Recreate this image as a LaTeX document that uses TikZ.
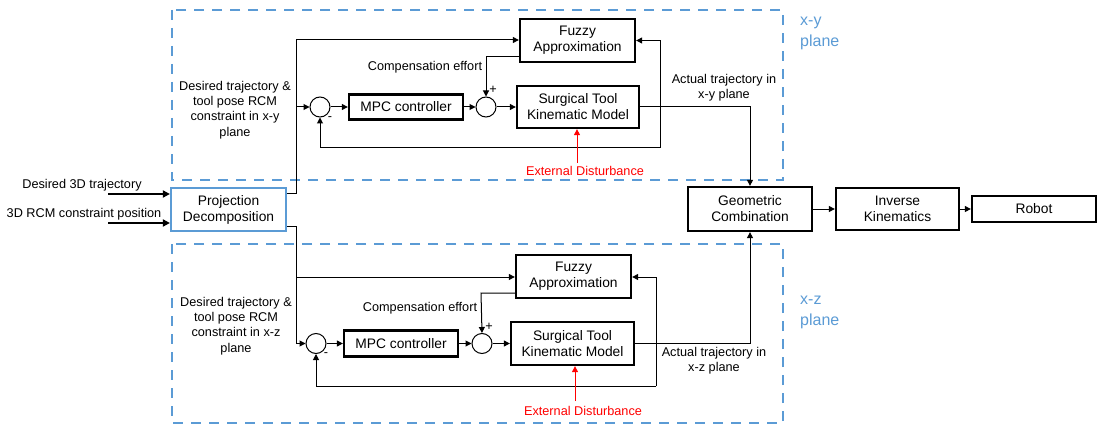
\documentclass[tikz,border=0pt]{standalone}
\usepackage{fontspec}
\setmainfont{Liberation Sans}
\usetikzlibrary{arrows.meta,calc}
\definecolor{planeblue}{RGB}{91,155,213}
\tikzset{
  blk/.style={draw,line width=2.3pt,inner sep=0pt,align=center,font=\fontsize{13.8}{16}\selectfont},
  projbox/.style={draw=planeblue,line width=2.2pt,inner sep=0pt,align=center,font=\fontsize{13.8}{16}\selectfont},
  sumnode/.style={draw,circle,line width=1pt,minimum size=20pt,inner sep=0pt},
  lbl/.style={align=center,inner sep=0pt,font=\fontsize{12.7}{15.3}\selectfont},
  planelbl/.style={align=left,inner sep=0pt,text=planeblue,font=\fontsize{16}{21}\selectfont},
  arr/.style={line width=1pt,-{Triangle[length=6pt,width=6pt]}},
  line/.style={line width=1pt},
  inarr/.style={line width=2.2pt,-{Triangle[length=7pt,width=7pt]}},
  redarr/.style={line width=1pt,red,-{Triangle[length=6pt,width=6pt]}},
  frame/.style={draw=planeblue,line width=2.8pt,dash pattern=on 10pt off 8pt}
}
\begin{document}
\begin{tikzpicture}[x=1pt,y=-1pt]
\useasboundingbox (0,0) rectangle (1100,425);

% plane frames
\draw[frame] (172,10) rectangle (783,180);
\draw[frame] (172,244) rectangle (783,423);
\node[planelbl,anchor=west] (pxy) at (800,33) {x-y\\plane};
\node[planelbl,anchor=west] (pxz) at (800,312) {x-z\\plane};

% inputs and decomposition
\node[projbox,minimum width=115pt,minimum height=43pt] (proj) at (228.5,209.5) {Projection\\Decomposition};
\node[lbl] (in1) at (82,185) {Desired 3D trajectory};
\node[lbl] (in2) at (84,214) {3D RCM constraint position};
\coordinate (in1s) at (108,194);
\coordinate (in2s) at (108,223);
\draw[inarr] (in1s) -- (proj.west |- in1s);
\draw[inarr] (in2s) -- (proj.west |- in2s);

% combination chain
\node[blk,minimum width=124pt,minimum height=44pt] (geo) at (750,209) {Geometric\\Combination};
\node[blk,minimum width=123pt,minimum height=42pt] (ik) at (897.5,209) {Inverse\\Kinematics};
\node[blk,minimum width=124pt,minimum height=26pt] (robot) at (1034,209) {Robot};
\draw[arr] (geo) -- (ik);
\draw[arr] (ik) -- (robot);

% ---------- x-y plane loop ----------
\node[blk,minimum width=115pt,minimum height=43pt] (fz1) at (577.5,40.5) {Fuzzy\\Approximation};
\node[blk,minimum width=122pt,minimum height=42pt] (st1) at (578,107) {Surgical Tool\\Kinematic Model};
\node[blk,minimum width=114pt,minimum height=25pt] (mpc1) at (406,107) {MPC controller};
\node[sumnode] (a1) at (320,107) {};
\node[sumnode] (b1) at (486,107) {};
\node[lbl] (m1) at (330,119) {-};
\node[lbl] (p1) at (493,90) {+};
\node[lbl] (L1) at (235,110) {Desired trajectory \&\\tool pose RCM\\constraint in x-y\\plane};
\node[lbl] (c1) at (425,67) {Compensation effort};
\node[lbl] (o1) at (724,87.5) {Actual trajectory in\\x-y plane};
\node[lbl,text=red] (d1) at (585,171) {External Disturbance};

\coordinate (t1) at (296,40);
\coordinate (k1) at (486,57);
\coordinate (r1) at (660,107);
\coordinate (r1b) at (660,148);
\coordinate (e1) at (577,163);
\draw[arr] ([yshift=16.5pt]proj.east) -| (t1) -- (fz1.west |- t1);
\draw[arr] (t1 |- a1) -- (a1.west);
\draw[arr] (a1) -- (mpc1);
\draw[arr] (mpc1) -- (b1);
\draw[arr] (b1) -- (st1);
\draw[arr] (fz1.west |- k1) -- (k1) -- (b1.north);
\draw[arr] (st1.east) -| (geo.north);
\draw[arr] (r1) |- (fz1.east);
\draw[arr] (r1) -- (r1b) -| (a1.south);
\draw[redarr] (e1) -- (e1 |- st1.south);

% ---------- x-z plane loop ----------
\node[blk,minimum width=115pt,minimum height=43pt] (fz2) at (573.5,276.5) {Fuzzy\\Approximation};
\node[blk,minimum width=123pt,minimum height=43pt] (st2) at (572.5,343.5) {Surgical Tool\\Kinematic Model};
\node[blk,minimum width=114pt,minimum height=26pt] (mpc2) at (401,343.5) {MPC controller};
\node[sumnode] (a2) at (316,343.5) {};
\node[sumnode] (b2) at (482,343.5) {};
\node[lbl] (m2) at (326,355) {-};
\node[lbl] (p2) at (489,327) {+};
\node[lbl] (L2) at (236,326) {Desired trajectory \&\\tool pose RCM\\constraint in x-z\\plane};
\node[lbl] (c2) at (420,308) {Compensation effort};
\node[lbl] (o2) at (714,361) {Actual trajectory in\\x-z plane};
\node[lbl,text=red] (d2) at (583,411) {External Disturbance};

\coordinate (t2) at (296,277);
\coordinate (k2) at (481,293);
\coordinate (r2) at (656,277);
\coordinate (r2b) at (656,386);
\coordinate (e2) at (575,401);
\draw[line] ([yshift=-16.5pt]proj.east) -| (t2);
\draw[arr] (t2) -- (fz2.west |- t2);
\draw[arr] (t2) |- (a2.west);
\draw[arr] (a2) -- (mpc2);
\draw[arr] (mpc2) -- (b2);
\draw[arr] (b2) -- (st2);
\draw[arr] (fz2.west |- k2) -- (k2) -- (b2.north);
\draw[arr] (st2.east) -| (geo.south);
\draw[arr] (r2b) -- (r2) -- (fz2.east |- r2);
\draw[arr] (r2b) -| (a2.south);
\draw[redarr] (e2) -- (e2 |- st2.south);
\end{tikzpicture}
\end{document}
